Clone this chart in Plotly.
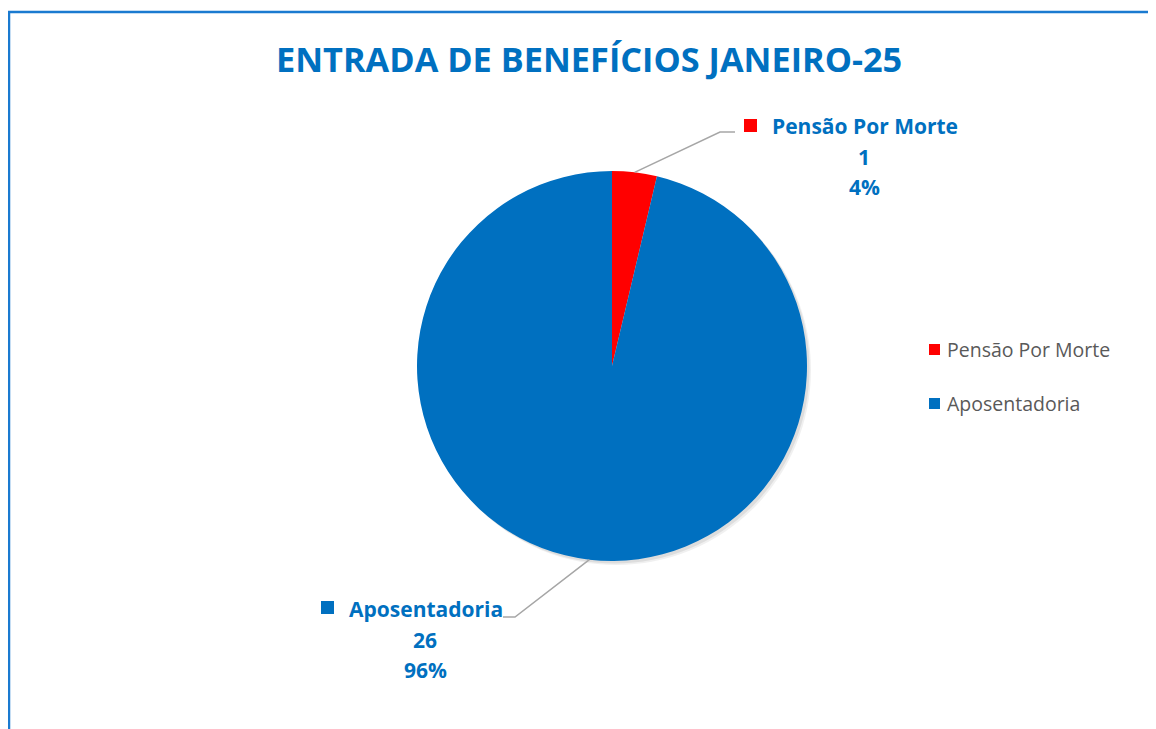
import math
import plotly.graph_objects as go

W, H = 1156, 729
OFF = 8  # page body margin offset

title_text = "ENTRADA DE BENEFÍCIOS JANEIRO-25"
categories = ["Pensão Por Morte", "Aposentadoria"]
values = [1, 26]
colors = ["#FF0000", "#0070C0"]

BLUE = "#0070C0"
FONT = "Open Sans"


def px(x):
    return (x - OFF) / W


def py(y):
    return 1 - (y - OFF) / H


# pie geometry (pixels)
cx, cy, r = 612, 366, 195

fig = go.Figure()

# soft shadow
for off, a in [(4, 0.06), (2.5, 0.08)]:
    fig.add_trace(go.Pie(
        values=[1], labels=["s"], marker=dict(colors=[f"rgba(0,0,0,{a})"], line=dict(width=0)),
        domain=dict(x=[px(cx - r + off), px(cx + r + off)], y=[py(cy + r + off), py(cy - r + off)]),
        textinfo="none", hoverinfo="skip", showlegend=False, sort=False))

fig.add_trace(go.Pie(
    labels=categories, values=values, sort=False, direction="clockwise", rotation=0,
    marker=dict(colors=colors, line=dict(width=0)),
    domain=dict(x=[px(cx - r), px(cx + r)], y=[py(cy + r), py(cy - r)]),
    textinfo="none", showlegend=False,
))

total = sum(values)
annotations = []
shapes = []

# chart border
shapes.append(dict(type="rect", xref="paper", yref="paper",
                   x0=px(9), x1=px(1175), y0=py(750), y1=py(12),
                   line=dict(color="#1A7AD0", width=2.5), fillcolor="rgba(0,0,0,0)"))

# title
annotations.append(dict(text=f"<b>{title_text}</b>", x=px(589), y=py(58), xref="paper", yref="paper",
                        showarrow=False, xanchor="center", yanchor="middle",
                        font=dict(family=FONT, size=34.3, color=BLUE)))

# label layout (pixel positions)
label_pos = [
    dict(mark=(744, 119), text_left=770, name_y=126, center=864, elbow=(720, 132), end=(735, 132)),
    dict(mark=(321, 601), text_left=347, name_y=609, center=425, elbow=(515, 617), end=(503, 617)),
]

cum = 0
for i, (cat, v) in enumerate(zip(categories, values)):
    mid = (cum + v / 2) / total * 2 * math.pi
    cum += v
    sx = cx + r * math.sin(mid)
    sy = cy - r * math.cos(mid)
    lp = label_pos[i]
    ex, ey = lp["elbow"]
    fx, fy = lp["end"]
    shapes.append(dict(type="path", xref="paper", yref="paper",
                       path=f"M {px(sx)},{py(sy)} L {px(ex)},{py(ey)} L {px(fx)},{py(fy)}",
                       line=dict(color="#A6A6A6", width=1.5)))
    mx, my = lp["mark"]
    shapes.append(dict(type="rect", xref="paper", yref="paper",
                       x0=px(mx), x1=px(mx + 13), y0=py(my + 13), y1=py(my),
                       fillcolor=colors[i], line=dict(width=0)))
    pct = round(v / total * 100)
    annotations.append(dict(text=f"<b>{cat}</b>", x=px(lp["text_left"]), y=py(lp["name_y"]),
                            xref="paper", yref="paper", showarrow=False, xanchor="left", yanchor="middle",
                            font=dict(family=FONT, size=21, color=BLUE)))
    annotations.append(dict(text=f"<b>{v}</b>", x=px(lp["center"]), y=py(lp["name_y"] + 31),
                            xref="paper", yref="paper", showarrow=False, xanchor="center", yanchor="middle",
                            font=dict(family=FONT, size=21, color=BLUE)))
    annotations.append(dict(text=f"<b>{pct}%</b>", x=px(lp["center"]), y=py(lp["name_y"] + 61),
                            xref="paper", yref="paper", showarrow=False, xanchor="center", yanchor="middle",
                            font=dict(family=FONT, size=21, color=BLUE)))

# manual legend
leg_y = [349, 403]
for i, cat in enumerate(categories):
    y = leg_y[i]
    shapes.append(dict(type="rect", xref="paper", yref="paper",
                       x0=px(929), x1=px(940), y0=py(y + 6), y1=py(y - 5),
                       fillcolor=colors[i], line=dict(width=0)))
    annotations.append(dict(text=cat, x=px(945), y=py(y), xref="paper", yref="paper",
                            showarrow=False, xanchor="left", yanchor="middle",
                            font=dict(family=FONT, size=19.5, color="#595959")))

fig.update_layout(
    width=W, height=H, margin=dict(l=0, r=0, t=0, b=0),
    paper_bgcolor="white", plot_bgcolor="white",
    annotations=annotations, shapes=shapes, showlegend=False,
)

fig.write_html("out.html")
